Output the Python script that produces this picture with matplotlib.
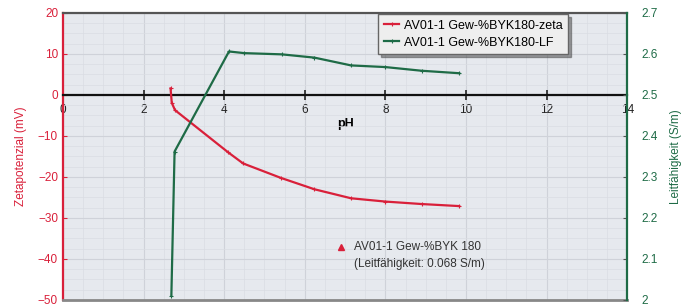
import matplotlib
matplotlib.use("Agg")
import matplotlib.pyplot as plt
from matplotlib.ticker import MultipleLocator

plt.rcParams['font.family'] = ['Liberation Sans', 'DejaVu Sans']

# Zetapotenzial (mV) über pH
ph_zeta = [2.67, 2.70, 2.78, 4.10, 4.47, 5.40, 6.24, 7.15, 8.00, 8.90, 9.83]
zeta = [1.6, -1.9, -3.7, -14.0, -16.7, -20.2, -23.0, -25.2, -26.0, -26.6, -27.1]

# Leitfähigkeit (S/m) über pH
ph_lf = [2.69, 2.77, 4.12, 4.50, 5.43, 6.24, 7.15, 8.00, 8.90, 9.83]
lf = [2.01, 2.362, 2.606, 2.602, 2.599, 2.591, 2.572, 2.568, 2.559, 2.553]

rot = '#d9203a'
gruen = '#1e6b46'

fig = plt.figure(figsize=(6.84, 3.08), dpi=100)
ax = fig.add_axes([0.092, 0.026, 0.825, 0.932])
ax.set_facecolor('#e6e9ee')
ax2 = ax.twinx()

ax.set_xlim(0, 14)
ax.set_ylim(-50, 20)
ax2.set_ylim(2.0, 2.7)

# Gitter
ax.xaxis.set_minor_locator(MultipleLocator(0.5))
ax.yaxis.set_minor_locator(MultipleLocator(2.5))
ax.grid(True, which='major', color='#cfd2d9', linewidth=0.8)
ax.grid(True, which='minor', color='#dadde3', linewidth=0.5)
ax.set_axisbelow(True)

l1, = ax.plot(ph_zeta, zeta, color=rot, linewidth=1.6, marker='+', markersize=3,
              markeredgewidth=0.8, label='AV01-1 Gew-%BYK180-zeta', zorder=4)
l2, = ax2.plot(ph_lf, lf, color=gruen, linewidth=1.6, marker='+', markersize=3,
               markeredgewidth=0.8, label='AV01-1 Gew-%BYK180-LF', zorder=4)

# x-Achse bei 0 mV
ax.spines['bottom'].set_position(('data', 0))
ax.spines['bottom'].set_color('#111111')
ax.spines['bottom'].set_linewidth(1.6)
ax.xaxis.set_major_locator(MultipleLocator(2))
ax.tick_params(axis='x', which='major', direction='inout', length=7, width=1.2,
               labelsize=8.5, pad=3, colors='#222222')
ax.tick_params(axis='x', which='minor', length=0)
ax.set_xlabel('pH', fontsize=9, fontweight='bold', labelpad=0)
ax.xaxis.set_label_coords(0.5, 0.635)

ax.spines['left'].set_color(rot)
ax.spines['left'].set_linewidth(1.6)
ax.spines['top'].set_color('#555555')
ax.spines['top'].set_linewidth(1.6)
ax2.spines['right'].set_color(gruen)
ax2.spines['right'].set_linewidth(1.6)
ax2.spines['left'].set_visible(False)
ax2.spines['top'].set_visible(False)
ax2.spines['bottom'].set_visible(False)
ax.spines['right'].set_visible(False)

# Untere Rahmenlinie
ax.axhline(-50, color='#888888', linewidth=2.0, zorder=5, clip_on=False)

ax.yaxis.set_major_locator(MultipleLocator(10))
ax.tick_params(axis='y', which='major', colors=rot, labelsize=8.5, length=3, direction='in')
ax.tick_params(axis='y', which='minor', length=0)
ax.set_ylabel('Zetapotenzial (mV)', color=rot, fontsize=8.5, labelpad=8)

ax2.set_yticks([2.0, 2.1, 2.2, 2.3, 2.4, 2.5, 2.6, 2.7])
ax2.set_yticklabels(['2', '2.1', '2.2', '2.3', '2.4', '2.5', '2.6', '2.7'])
ax2.tick_params(axis='y', colors='#555555', labelsize=8.5, length=3, direction='in', pad=10)
for t in ax2.get_yticklabels():
    t.set_color(gruen)
ax2.set_ylabel('Leitfähigkeit (S/m)', color=gruen, fontsize=8.5, labelpad=9)

leg = ax2.legend(handles=[l1, l2], loc='upper left', bbox_to_anchor=(0.557, 1.0),
                 borderaxespad=0.1, fontsize=9, frameon=True, fancybox=False, shadow=True,
                 handlelength=1.2, handletextpad=0.4, borderpad=0.45, labelspacing=0.4)
leg.get_frame().set_facecolor('#eeeeee')
leg.get_frame().set_edgecolor('#666666')

# Hinweis
ax.plot([6.91], [-37.0], marker='^', color=rot, markersize=5, linestyle='none', zorder=6)
ax.text(7.22, -37.0, 'AV01-1 Gew-%BYK 180', fontsize=8.5,
        color='#333333', va='center', ha='left')
ax.text(7.22, -41.3, '(Leitfähigkeit: 0.068 S/m)', fontsize=8.5,
        color='#333333', va='center', ha='left')

fig.savefig('out.png', dpi=100)
